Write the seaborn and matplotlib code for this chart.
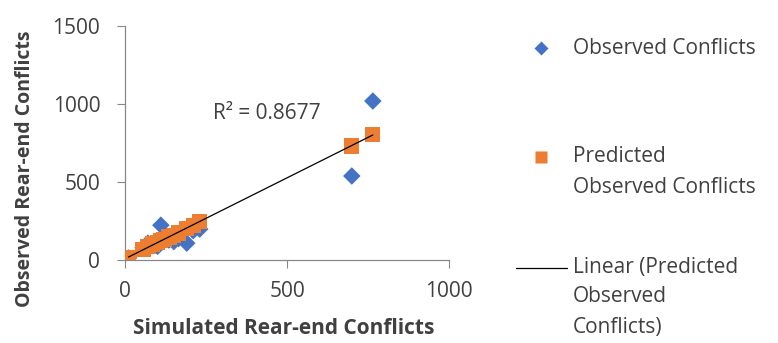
import matplotlib
matplotlib.use("Agg")
import matplotlib.pyplot as plt
from matplotlib.lines import Line2D
import seaborn as sns
import numpy as np
import pandas as pd

# Data
simulated = [10, 55, 70, 85, 100, 110, 120, 135, 150, 165, 190, 210, 230, 700, 765]
observed = [15, 80, 110, 95, 90, 225, 150, 130, 120, 140, 110, 190, 200, 540, 1020]
predicted = [20, 70, 90, 105, 115, 125, 135, 150, 160, 175, 205, 225, 250, 732, 808]
r2_label = "R\u00b2 = 0.8677"
x_ticks = [0, 500, 1000]
y_ticks = [0, 500, 1000, 1500]

df = pd.DataFrame({"sim": simulated, "obs": observed, "pred": predicted})

sns.set_style("white")
plt.rcParams["font.family"] = ["Open Sans", "DejaVu Sans"]

fig = plt.figure(figsize=(7.78, 3.43), dpi=100)
ax = fig.add_axes([0.161, 0.241, 0.416, 0.683])

blue = "#4472C4"
orange = "#ED7D31"
txt = "#404040"

sns.scatterplot(data=df, x="sim", y="obs", marker="D", s=80, color=blue,
                edgecolor="none", ax=ax, zorder=3)
sns.scatterplot(data=df, x="sim", y="pred", marker="s", s=120, color=orange,
                edgecolor="none", ax=ax, zorder=4)
sns.regplot(data=df, x="sim", y="pred", scatter=False, ci=None, ax=ax,
            line_kws={"color": "black", "lw": 0.9, "zorder": 5})

ax.set_xlim(0, 1000)
ax.set_ylim(0, 1500)
ax.set_xticks(x_ticks)
ax.set_yticks(y_ticks)
ax.tick_params(axis="both", labelsize=15, colors=txt, length=6,
               width=0.8, direction="out", color="#888888", left=True, bottom=True)
ax.tick_params(axis="y", pad=12)
ax.tick_params(axis="x", pad=9)
for s in ["top", "right"]:
    ax.spines[s].set_visible(False)
for s in ["left", "bottom"]:
    ax.spines[s].set_color("#888888")
    ax.spines[s].set_linewidth(0.9)
ax.grid(False)

ax.set_xlabel("Simulated Rear-end Conflicts", fontsize=15, fontweight="bold",
              color=txt)
ax.set_ylabel("Observed Rear-end Conflicts", fontsize=14, fontweight="bold",
              color=txt)
ax.xaxis.set_label_coords(0.49, -0.245)
ax.yaxis.set_label_coords(-0.28, 0.39)

ax.text(270, 870, r2_label, fontsize=15, color=txt, va="bottom", ha="left")

# Legend drawn at the right, Excel style
W, H = 778, 343
def fx(px):
    return px / W
def fy(py):
    return 1 - py / H

fs = 15
fig.add_artist(Line2D([fx(541)], [fy(48)], marker="D", markersize=7,
                      color=blue, markeredgecolor="none", transform=fig.transFigure))
fig.text(fx(573), fy(48), "Observed Conflicts", fontsize=fs, color=txt,
         va="center", ha="left")
fig.add_artist(Line2D([fx(541)], [fy(157)], marker="s", markersize=9,
                      color=orange, markeredgecolor="none", transform=fig.transFigure))
fig.text(fx(573), fy(157), "Predicted", fontsize=fs, color=txt,
         va="center", ha="left")
fig.text(fx(573), fy(188), "Observed Conflicts", fontsize=fs, color=txt,
         va="center", ha="left")
fig.add_artist(Line2D([fx(516), fx(567)], [fy(268), fy(268)], color="black",
                      lw=0.9, transform=fig.transFigure))
fig.text(fx(573), fy(267), "Linear (Predicted", fontsize=fs, color=txt,
         va="center", ha="left")
fig.text(fx(573), fy(297), "Observed", fontsize=fs, color=txt,
         va="center", ha="left")
fig.text(fx(573), fy(327), "Conflicts)", fontsize=fs, color=txt,
         va="center", ha="left")

fig.savefig("out.png", dpi=100)
